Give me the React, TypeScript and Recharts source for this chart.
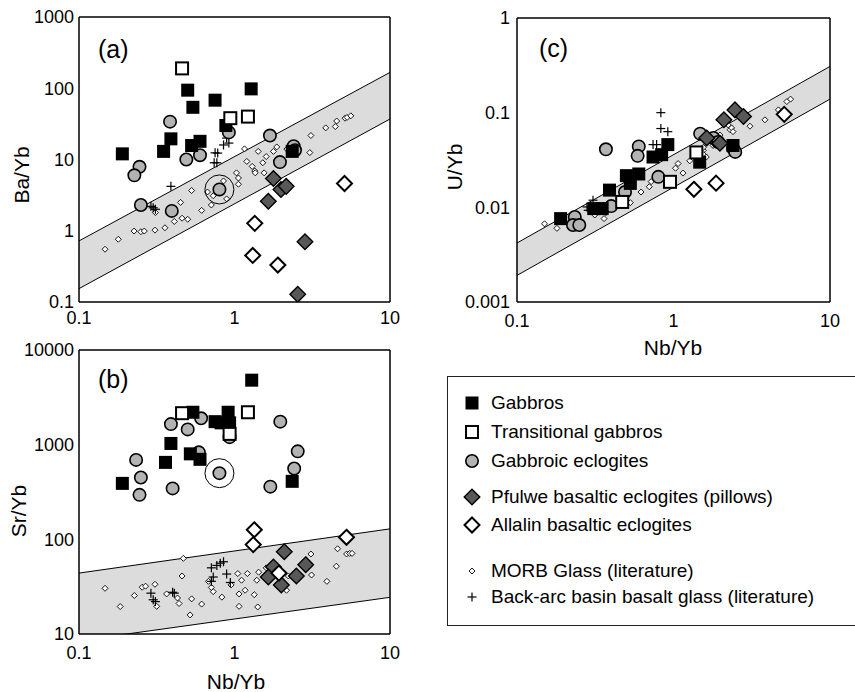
import React from "react"
import { ComposedChart, Area, Scatter, XAxis, YAxis } from "recharts"

// x is Nb/Yb in every panel
const xTicks = [0.1, 1, 10]

// ---- panel (a): Ba/Yb ----
const yTicksA = [0.1, 1, 10, 100, 1000]
const bandA = [
  { x: 0.1, band: [0.154, 0.72] },
  { x: 10, band: [37, 167] },
]
const gabbrosA = [[0.19, 12], [0.5, 94], [0.54, 54], [0.75, 68], [1.28, 98], [0.39, 19.5], [0.35, 13], [0.53, 15.7], [0.6, 18], [0.88, 30], [2.35, 13]]
const transA = [[0.46, 190], [0.94, 38], [1.22, 40]]
const eclogA = [[0.385, 34], [0.92, 24], [0.245, 7.9], [0.227, 6.0], [0.49, 10], [0.6, 11.5], [1.69, 21.7], [2.4, 15.4], [2.45, 13.5], [1.96, 9.2], [0.25, 2.3], [0.395, 1.9], [0.8, 3.8]]
const pfulweA = [[1.78, 5.4], [1.99, 3.8], [2.15, 4.2], [1.65, 2.6], [2.84, 0.7], [2.55, 0.128]]
const allalinA = [[5.1, 4.6], [1.35, 1.27], [1.31, 0.45], [1.9, 0.33]]
const backarcA = [[0.39, 4.2], [0.3, 2.1], [0.31, 2.0], [0.29, 2.2], [0.75, 12.4], [0.78, 12.3], [0.74, 9.0], [0.77, 9.0], [0.85, 16], [0.92, 17], [0.89, 20]]
const morbA = [[0.147, 0.55], [0.179, 0.76], [0.226, 0.99], [0.25, 0.97], [0.263, 0.99], [0.308, 1.02], [0.357, 1.1], [0.31, 1.8], [0.41, 1.35], [0.46, 1.5], [0.5, 1.45], [0.45, 2.5], [0.53, 3.67], [0.615, 1.93], [0.71, 2.3], [0.67, 3.5], [0.73, 3.1], [0.85, 5], [0.89, 2.8], [1.03, 6.5], [1.06, 5.5], [1.06, 4.5], [1.16, 14.1], [1.2, 9.4], [1.3, 8], [1.35, 6.9], [1.36, 6.5], [1.42, 13], [1.52, 9], [1.55, 6.5], [1.6, 11], [1.78, 13], [1.87, 15], [2.17, 14], [3.1, 21.7], [3.05, 12.5], [3.86, 27.8], [4.54, 34.7], [4.45, 29], [5.14, 38], [5.3, 39], [5.6, 41]]
const ringA = [[0.8, 3.8]]

// ---- panel (b): Sr/Yb ----
const yTicksB = [10, 100, 1000, 10000]
const bandB = [
  { x: 0.1, band: [8.5, 44] },
  { x: 10, band: [24.4, 129] },
]
const gabbrosB = [[1.29, 4800], [0.54, 2200], [0.91, 2200], [0.75, 1750], [0.82, 1700], [0.93, 1700], [0.39, 1030], [0.52, 800], [0.6, 700], [0.36, 650], [0.19, 390], [2.35, 410]]
const transB = [[0.46, 2150], [1.22, 2200], [0.93, 1300]]
const eclogB = [[0.39, 1650], [0.5, 1450], [0.61, 1900], [0.93, 1200], [0.59, 830], [1.97, 1750], [2.55, 850], [2.42, 560], [1.7, 360], [0.4, 345], [0.233, 690], [0.25, 450], [0.245, 295], [0.8, 500]]
const pfulweB = [[2.09, 74], [2.87, 54], [1.78, 51], [1.65, 40], [2.0, 33], [2.5, 41]]
const allalinB = [[1.34, 126], [1.32, 88], [5.25, 105], [1.93, 44]]
const backarcB = [[0.71, 50], [0.77, 53], [0.81, 56], [0.85, 58], [0.89, 43], [0.73, 40], [0.71, 36], [0.94, 35], [0.29, 27], [0.3, 23], [0.31, 22], [0.4, 27.6], [0.41, 27]]
const morbB = [[0.147, 30.4], [0.184, 19.5], [0.227, 25.5], [0.255, 31.2], [0.268, 32], [0.308, 33.5], [0.316, 19.6], [0.366, 26.5], [0.43, 24], [0.44, 21], [0.469, 63], [0.46, 41], [0.53, 23.5], [0.518, 15.9], [0.615, 20.7], [0.68, 36], [0.71, 31], [0.73, 28], [0.83, 24.5], [0.95, 33], [1.05, 43.5], [1.07, 26.5], [1.07, 19.6], [1.11, 37], [1.17, 29], [1.21, 43.5], [1.34, 26], [1.39, 37], [1.41, 19.3], [1.43, 45], [1.6, 50], [2.16, 29], [2.22, 41], [3.1, 70], [3.13, 42], [3.93, 36], [4.52, 52], [4.6, 79.5], [5.26, 70], [5.5, 71], [5.7, 71]]
const ringB = [[0.8, 500]]

// ---- panel (c): U/Yb ----
const yTicksC = [0.001, 0.01, 0.1, 1]
const bandC = [
  { x: 0.1, band: [0.00191, 0.0042] },
  { x: 10, band: [0.139, 0.308] },
]
const gabbrosC = [[0.19, 0.0076], [0.31, 0.0097], [0.35, 0.0097], [0.39, 0.0152], [0.5, 0.0216], [0.6, 0.0225], [0.53, 0.0179], [0.74, 0.034], [0.84, 0.036], [0.92, 0.046], [1.47, 0.03], [2.4, 0.045]]
const transC = [[0.47, 0.0114], [0.95, 0.0186], [1.4, 0.038]]
const eclogC = [[0.37, 0.041], [0.6, 0.044], [0.59, 0.035], [0.8, 0.021], [0.234, 0.0079], [0.228, 0.0065], [0.25, 0.0065], [0.4, 0.0103], [0.49, 0.0145], [1.48, 0.06], [1.8, 0.054], [1.93, 0.049], [2.4, 0.042], [2.48, 0.0385]]
const pfulweC = [[2.1, 0.084], [2.47, 0.107], [2.8, 0.091], [1.63, 0.054], [1.98, 0.0475]]
const allalinC = [[1.35, 0.0155], [1.87, 0.018], [5.1, 0.096]]
const backarcC = [[0.83, 0.1], [0.83, 0.068], [0.92, 0.063], [0.74, 0.046], [0.78, 0.046], [0.306, 0.0119], [0.285, 0.0093], [0.25, 0.0062], [0.28, 0.0101]]
const morbC = [[0.15, 0.0067], [0.18, 0.006], [0.314, 0.0083], [0.36, 0.0076], [0.37, 0.0088], [0.42, 0.01], [0.53, 0.0112], [0.62, 0.0145], [0.7, 0.0165], [0.72, 0.0187], [0.81, 0.021], [1.03, 0.0259], [1.07, 0.029], [1.15, 0.023], [1.27, 0.031], [1.43, 0.033], [1.55, 0.04], [1.56, 0.036], [1.62, 0.034], [2.24, 0.074], [2.3, 0.066], [2.35, 0.069], [2.4, 0.063], [3.08, 0.072], [3.84, 0.084], [4.68, 0.107], [5.3, 0.131], [5.6, 0.139], [1.98, 0.058], [1.79, 0.045], [1.55, 0.043]]

const legendItems = [
  { label: "Gabbros", kind: "gabbro" },
  { label: "Transitional gabbros", kind: "trans" },
  { label: "Gabbroic eclogites", kind: "eclog" },
  { label: "Pfulwe basaltic eclogites (pillows)", kind: "pfulwe" },
  { label: "Allalin basaltic eclogites", kind: "allalin" },
  { label: "MORB Glass (literature)", kind: "morb" },
  { label: "Back-arc basin basalt glass (literature)", kind: "backarc" },
]
const legendRowY = [403, 432, 461, 497, 525, 571, 597]

const FONT = '"Liberation Sans", Arial, Helvetica, sans-serif'
const ECLOG_GRAY = "#b3b3b3"
const PFULWE_GRAY = "#585858"
const BAND_GRAY = "#dcdcdc"

const pts = (arr: number[][]) => arr.map(([x, y]) => ({ x, y }))
const fmt = (v: number) => String(v)

// minor tick positions, 1..9 in each decade (no labels)
const minorTicks = (lo: number, hi: number) => {
  const out: number[] = []
  for (let e = Math.round(Math.log10(lo)); e < Math.round(Math.log10(hi)); e++) {
    for (let k = 1; k < 10; k++) out.push(+(k * Math.pow(10, e)).toPrecision(3))
  }
  out.push(hi)
  return out
}

const diamondPath = (cx: number, cy: number, h: number) =>
  `M${cx},${cy - h}L${cx + h},${cy}L${cx},${cy + h}L${cx - h},${cy}Z`

const GabbroShape = (p: any) => <rect x={p.cx - 6.5} y={p.cy - 6.5} width={13} height={13} fill="#000" />
const TransShape = (p: any) => <rect x={p.cx - 6} y={p.cy - 6} width={12} height={12} fill="#fff" stroke="#000" strokeWidth={2} />
const EclogShape = (p: any) => <circle cx={p.cx} cy={p.cy} r={6.2} fill={ECLOG_GRAY} stroke="#000" strokeWidth={1.6} />
const PfulweShape = (p: any) => <path d={diamondPath(p.cx, p.cy, 7.8)} fill={PFULWE_GRAY} stroke="#000" strokeWidth={1.4} />
const AllalinShape = (p: any) => <path d={diamondPath(p.cx, p.cy, 7.5)} fill="#fff" stroke="#000" strokeWidth={2} />
const MorbShape = (p: any) => <path d={diamondPath(p.cx, p.cy, 3)} fill="#fff" stroke="#000" strokeWidth={0.9} />
const CrossShape = (p: any) => (
  <g stroke="#000" strokeWidth={1.2}>
    <line x1={p.cx - 4.5} y1={p.cy} x2={p.cx + 4.5} y2={p.cy} />
    <line x1={p.cx} y1={p.cy - 4.5} x2={p.cx} y2={p.cy + 4.5} />
  </g>
)
const RingShape = (p: any) => <circle cx={p.cx} cy={p.cy} r={14.5} fill="none" stroke="#000" strokeWidth={1} />

interface PanelProps {
  band: { x: number; band: number[] }[]
  yTicks: number[]
  yTickMargin: number
  xTickMargin: number
  width: number
  height: number
  marginTop: number
  series: { gabbros: number[][]; trans: number[][]; eclog: number[][]; pfulwe: number[][]; allalin: number[][]; backarc: number[][]; morb: number[][]; ring?: number[][] }
}

function LogPanel({ band, yTicks, yTickMargin, xTickMargin, width, height, marginTop, series }: PanelProps) {
  const yDomain = [yTicks[0], yTicks[yTicks.length - 1]]
  const xMinor = minorTicks(0.1, 10)
  const yMinor = minorTicks(yDomain[0], yDomain[1])
  const axisLine = { stroke: "#000", strokeWidth: 1.5 }
  const tickText = { fill: "#000", fontSize: 18 }
  return (
    <ComposedChart width={width} height={height} data={band} margin={{ top: marginTop, right: 10, bottom: 0, left: 0 }}>
      <XAxis xAxisId="b" dataKey="x" type="number" scale="log" domain={[0.1, 10]} allowDataOverflow ticks={xTicks} interval={0}
        tickFormatter={fmt} height={33} tickLine={false} tickSize={0} tickMargin={xTickMargin} axisLine={axisLine} tick={tickText} />
      <XAxis xAxisId="bm" type="number" scale="log" domain={[0.1, 10]} allowDataOverflow ticks={xMinor} interval={0}
        orientation="bottom" mirror tick={false} tickSize={4} axisLine={false} tickLine={{ stroke: "#000" }} />
      <XAxis xAxisId="t" type="number" scale="log" domain={[0.1, 10]} allowDataOverflow ticks={xMinor} interval={0}
        orientation="top" mirror tick={false} tickSize={4} axisLine={axisLine} tickLine={{ stroke: "#000" }} />
      <YAxis yAxisId="l" dataKey="y" type="number" scale="log" domain={yDomain} allowDataOverflow ticks={yTicks} interval={0}
        tickFormatter={fmt} width={79} tickLine={false} tickSize={0} tickMargin={yTickMargin} axisLine={axisLine} tick={tickText} />
      <YAxis yAxisId="lm" type="number" scale="log" domain={yDomain} allowDataOverflow ticks={yMinor} interval={0}
        orientation="left" mirror tick={false} tickSize={4} axisLine={false} tickLine={{ stroke: "#000" }} />
      <YAxis yAxisId="r" type="number" scale="log" domain={yDomain} allowDataOverflow ticks={yMinor} interval={0}
        orientation="right" mirror tick={false} tickSize={4} axisLine={axisLine} tickLine={{ stroke: "#000" }} />

      <Area xAxisId="b" yAxisId="l" type="linear" dataKey="band" fill={BAND_GRAY} fillOpacity={1} stroke="#000" strokeWidth={1}
        dot={false} activeDot={false} isAnimationActive={false} />

      <Scatter xAxisId="b" yAxisId="l" name="MORB Glass" data={pts(series.morb)} shape={MorbShape} isAnimationActive={false} />
      <Scatter xAxisId="b" yAxisId="l" name="Back-arc" data={pts(series.backarc)} shape={CrossShape} isAnimationActive={false} />
      {series.ring && (
        <Scatter xAxisId="b" yAxisId="l" name="ring" data={pts(series.ring)} shape={RingShape} isAnimationActive={false} />
      )}
      <Scatter xAxisId="b" yAxisId="l" name="Gabbroic eclogites" data={pts(series.eclog)} shape={EclogShape} isAnimationActive={false} />
      <Scatter xAxisId="b" yAxisId="l" name="Gabbros" data={pts(series.gabbros)} shape={GabbroShape} isAnimationActive={false} />
      <Scatter xAxisId="b" yAxisId="l" name="Transitional gabbros" data={pts(series.trans)} shape={TransShape} isAnimationActive={false} />
      <Scatter xAxisId="b" yAxisId="l" name="Pfulwe" data={pts(series.pfulwe)} shape={PfulweShape} isAnimationActive={false} />
      <Scatter xAxisId="b" yAxisId="l" name="Allalin" data={pts(series.allalin)} shape={AllalinShape} isAnimationActive={false} />
    </ComposedChart>
  )
}

function LegendSymbol({ kind }: { kind: string }) {
  const c = 11
  let el: React.ReactNode = null
  if (kind === "gabbro") el = <GabbroShape cx={c} cy={c} />
  if (kind === "trans") el = <TransShape cx={c} cy={c} />
  if (kind === "eclog") el = <EclogShape cx={c} cy={c} />
  if (kind === "pfulwe") el = <PfulweShape cx={c} cy={c} />
  if (kind === "allalin") el = <AllalinShape cx={c} cy={c} />
  if (kind === "morb") el = <MorbShape cx={c} cy={c} />
  if (kind === "backarc") el = <CrossShape cx={c} cy={c} />
  return <svg width={22} height={22} style={{ display: "block" }}>{el}</svg>
}

const abs = (left: number, top: number): React.CSSProperties => ({ position: "absolute", left, top })

function AxisTitle({ text, cx, cy, rotate }: { text: string; cx: number; cy: number; rotate?: boolean }) {
  return (
    <div style={{ ...abs(cx, cy), transform: `translate(-50%, -50%)${rotate ? " rotate(-90deg)" : ""}`, fontSize: 21, whiteSpace: "nowrap", lineHeight: 1 }}>
      {text}
    </div>
  )
}

export default function App() {
  return (
    <div style={{ position: "absolute", left: 0, top: 0, width: 855, height: 692, overflow: "hidden", background: "#fff", fontFamily: FONT, color: "#000" }}>
      <div style={abs(0, 0)}>
        <LogPanel band={bandA} yTicks={yTicksA} yTickMargin={5} xTickMargin={9} width={400} height={335} marginTop={17}
          series={{ gabbros: gabbrosA, trans: transA, eclog: eclogA, pfulwe: pfulweA, allalin: allalinA, backarc: backarcA, morb: morbA, ring: ringA }} />
      </div>
      <div style={abs(438, 0)}>
        <LogPanel band={bandC} yTicks={yTicksC} yTickMargin={7} xTickMargin={12} width={402} height={335} marginTop={18}
          series={{ gabbros: gabbrosC, trans: transC, eclog: eclogC, pfulwe: pfulweC, allalin: allalinC, backarc: backarcC, morb: morbC }} />
      </div>
      <div style={abs(0, 333)}>
        <LogPanel band={bandB} yTicks={yTicksB} yTickMargin={5} xTickMargin={12} width={400} height={334} marginTop={17}
          series={{ gabbros: gabbrosB, trans: transB, eclog: eclogB, pfulwe: pfulweB, allalin: allalinB, backarc: backarcB, morb: morbB, ring: ringB }} />
      </div>

      <div style={{ ...abs(98, 37), fontSize: 25, lineHeight: 1 }}>(a)</div>
      <div style={{ ...abs(539, 36), fontSize: 25, lineHeight: 1 }}>(c)</div>
      <div style={{ ...abs(98, 367), fontSize: 25, lineHeight: 1 }}>(b)</div>

      <AxisTitle text="Ba/Yb" cx={20.5} cy={175} rotate />
      <AxisTitle text="Sr/Yb" cx={17.5} cy={511} rotate />
      <AxisTitle text="U/Yb" cx={454} cy={167} rotate />
      <AxisTitle text="Nb/Yb" cx={673} cy={347} />
      <AxisTitle text="Nb/Yb" cx={236} cy={681} />

      <div style={{ position: "absolute", left: 447, top: 376, width: 430, height: 250, border: "1.5px solid #222", boxSizing: "border-box" }} />
      {legendItems.map((item, i) => (
        <div key={item.label} style={{ position: "absolute", left: 461, top: legendRowY[i] - 11, height: 22, display: "flex", alignItems: "center", whiteSpace: "nowrap" }}>
          <LegendSymbol kind={item.kind} />
          <span style={{ marginLeft: 8, fontSize: 19, lineHeight: "22px" }}>{item.label}</span>
        </div>
      ))}
    </div>
  )
}
